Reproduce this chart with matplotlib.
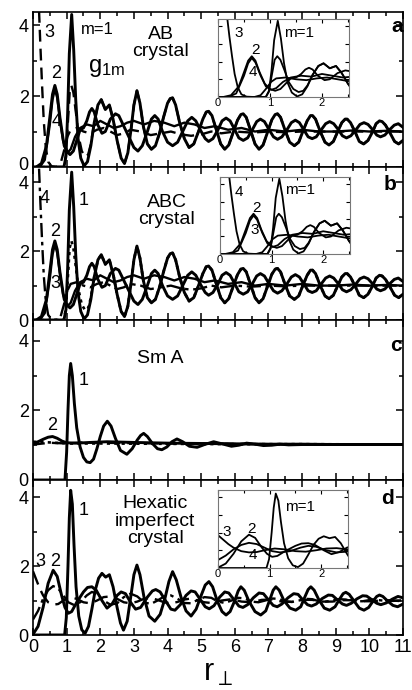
import numpy as np
import matplotlib
matplotlib.use("Agg")
import matplotlib.pyplot as plt
from matplotlib.ticker import MultipleLocator
from matplotlib.transforms import ScaledTranslation

plt.rcParams['font.family'] = ['Liberation Sans', 'DejaVu Sans']
plt.rcParams['mathtext.default'] = 'regular'

# ---------------- data ----------------
# panel a : AB crystal
a_m1 = [(0,0),(0.92,0),(0.98,0.3),(1.03,1.5),(1.08,3.2),(1.15,4.3),(1.21,3.3),(1.27,1.9),(1.34,0.8),(1.42,0.25),
        (1.52,0.03),(1.62,0.15),(1.72,0.6),(1.82,1.25),(1.93,1.75),(2.03,1.9),(2.15,1.62),(2.27,1.75),(2.38,1.35),
        (2.5,0.75),(2.62,0.25),(2.72,0.1),(2.82,0.4),(2.92,1.1),(3.0,1.75),(3.09,2.15),(3.18,1.8),(3.28,1.15),
        (3.4,0.65),(3.52,0.5),(3.64,0.6),(3.76,0.95),(3.88,1.4),(4.0,1.8),(4.08,1.93),(4.15,1.95),(4.24,1.75),
        (4.36,1.25),(4.5,0.8),(4.64,0.55),(4.78,0.65),(4.92,1.0),(5.05,1.35),(5.15,1.55),(5.22,1.57),(5.32,1.45),
        (5.45,1.05),(5.58,0.65),(5.7,0.5),(5.82,0.62),(5.96,1.0),(6.08,1.32),(6.18,1.48),(6.25,1.5),(6.34,1.4),
        (6.48,1.0),(6.6,0.65),(6.72,0.5),(6.84,0.62),(6.98,1.0),(7.1,1.33),(7.2,1.48),(7.27,1.5),(7.36,1.4),
        (7.5,1.02),(7.63,0.7),(7.77,0.6),(7.9,0.7),(8.03,1.02),(8.15,1.3),(8.25,1.45),(8.31,1.45),(8.4,1.35),
        (8.54,1.0),(8.68,0.7),(8.8,0.62),(8.93,0.72),(9.06,1.0),(9.18,1.25),(9.28,1.35),(9.34,1.35),(9.44,1.25),
        (9.58,0.98),(9.7,0.72),(9.83,0.65),(9.96,0.75),(10.1,1.0),(10.2,1.22),(10.3,1.3),(10.38,1.28),(10.48,1.18),
        (10.62,0.95),(10.75,0.72),(10.87,0.65),(11.0,0.75)]
a_m1b_head = [(0,0),(0.92,0),(0.98,0.35),(1.04,1.3),(1.09,2.1),(1.14,2.3),(1.2,2.1),(1.28,1.5),(1.36,0.85),
              (1.45,0.45),(1.55,0.28),(1.64,0.35),(1.72,0.65)]
a_m2 = [(0.1,0),(0.25,0.1),(0.4,0.6),(0.5,1.4),(0.58,2.05),(0.65,2.3),(0.72,2.05),(0.8,1.4),(0.9,0.75),(1.0,0.45),
        (1.1,0.35),(1.2,0.45),(1.3,0.75),(1.4,1.05),(1.5,1.1),(1.6,1.3),(1.68,1.55),(1.75,1.65),(1.82,1.55),
        (1.92,1.2),(2.05,0.95),(2.15,1.0),(2.3,1.35),(2.45,1.5),(2.55,1.45),(2.7,1.15),(2.85,0.85),(3.0,0.55),
        (3.12,0.45),(3.25,0.6),(3.4,1.0),(3.52,1.35),(3.62,1.45),(3.72,1.35),(3.85,1.0),(4.0,0.7),(4.15,0.6),
        (4.3,0.7),(4.45,1.0),(4.6,1.3),(4.72,1.4),(4.84,1.3),(5.0,1.0),(5.12,0.8),(5.22,0.72),(5.35,0.8),
        (5.5,1.05),(5.62,1.3),(5.74,1.38),(5.86,1.3),(6.0,1.05),(6.12,0.82),(6.25,0.75),(6.38,0.82),(6.52,1.05),
        (6.65,1.28),(6.76,1.35),(6.88,1.28),(7.02,1.05),(7.15,0.85),(7.27,0.78),(7.4,0.85),(7.55,1.05),
        (7.68,1.25),(7.8,1.32),(7.92,1.25),(8.05,1.05),(8.18,0.85),(8.3,0.8),(8.42,0.85),(8.57,1.05),(8.7,1.22),
        (8.82,1.28),(8.94,1.22),(9.08,1.05),(9.2,0.88),(9.32,0.82),(9.45,0.88),(9.6,1.05),(9.72,1.2),(9.84,1.25),
        (9.96,1.2),(10.1,1.05),(10.22,0.9),(10.33,0.85),(10.46,0.9),(10.6,1.05),(10.74,1.18),(10.86,1.22),
        (11.0,1.12)]
a_m4 = [(0.2,0),(0.35,0.2),(0.5,1.2),(0.58,1.9),(0.65,2.2),(0.72,1.95),(0.82,1.2),(0.92,0.6),(1.02,0.4),
        (1.12,0.5),(1.25,0.85),(1.4,1.1),(1.6,1.2),(1.8,1.15),(2.0,1.3),(2.2,1.2),(2.4,1.1),(2.6,1.15),(2.8,1.25),
        (3.0,1.3),(3.3,1.2),(3.6,1.3),(3.9,1.25),(4.2,1.15),(4.5,1.25),(4.8,1.2),(5.1,1.1),(5.4,1.15),(5.8,1.05),
        (6.2,1.1),(6.6,1.0),(7.0,1.05),(7.5,1.0),(8.0,1.05),(8.5,1.0),(9.0,1.0),(9.5,1.03),(10.0,1.0),(10.5,1.02),
        (11.0,1.0)]
a_m3 = [(0.18,4.4),(0.22,3.4),(0.27,2.3),(0.32,1.3),(0.38,0.55),(0.45,0.15),(0.55,0.02),(0.7,0.0),(0.82,0.1),
        (0.92,0.45),(1.02,0.85),(1.12,1.05),(1.3,1.1),(1.5,1.0),(1.7,0.95),(1.9,1.05),(2.1,1.1),(2.3,1.0),
        (2.5,0.9),(2.7,0.95),(2.9,1.05),(3.2,1.0),(3.5,0.9),(3.8,0.95),(4.1,1.0),(4.4,0.92),(4.7,0.88),(5.0,0.92),
        (5.3,1.0),(5.6,0.95),(6.0,1.0),(6.5,0.97),(7.0,1.0),(7.5,0.98),(8.0,1.0),(9.0,1.0),(10.0,1.0),(11.0,1.0)]

# panel b : ABC crystal (curves almost coincide with panel a)
b_m1 = a_m1
b_m1b_head = a_m1b_head
b_m2 = a_m2
b_m3 = a_m4
b_m4 = a_m3

# panel c : Sm A
c_m1 = [(0,0),(0.95,0),(1.0,0.8),(1.04,2.0),(1.08,3.0),(1.12,3.35),(1.17,3.0),(1.23,2.2),(1.3,1.5),(1.4,0.95),
        (1.5,0.65),(1.6,0.52),(1.7,0.5),(1.8,0.6),(1.9,0.9),(2.0,1.25),(2.1,1.55),(2.21,1.69),(2.32,1.55),
        (2.45,1.2),(2.6,0.85),(2.79,0.74),(2.95,0.9),(3.1,1.15),(3.2,1.28),(3.29,1.34),(3.4,1.25),(3.55,1.05),
        (3.7,0.9),(3.83,0.87),(3.98,0.95),(4.13,1.1),(4.28,1.18),(4.45,1.1),(4.65,0.97),(4.88,0.94),(5.1,1.02),
        (5.37,1.1),(5.62,1.04),(5.9,0.97),(6.12,1.0),(6.35,1.06),(6.6,1.03),(6.85,0.99),(7.1,1.0),(7.35,1.03),
        (7.6,1.01),(8.0,1.02),(9.0,1.02),(10.0,1.02),(11.0,1.02)]
c_m2 = [(0,1.05),(0.15,1.1),(0.3,1.17),(0.45,1.23),(0.58,1.25),(0.72,1.2),(0.86,1.12),(1.0,1.07),(1.3,1.06),
        (1.7,1.08),(2.2,1.1),(3.0,1.08),(4.0,1.06),(5.0,1.05),(6.0,1.04),(7.0,1.03),(8.0,1.03),(9.0,1.02),
        (10.0,1.02),(11.0,1.02)]
c_m3 = [(0,1.02),(0.5,1.07),(1.0,1.05),(1.5,1.08),(2.0,1.07),(3,1.06),(4,1.05),(5,1.04),(6,1.04),(7,1.03),
        (8,1.03),(9,1.02),(10,1.02),(11,1.02)]
c_m4 = [(0,1.1),(0.5,1.08),(1.0,1.05),(2.0,1.05),(4,1.04),(6,1.03),(8,1.03),(11,1.02)]

# panel d : hexatic imperfect crystal
d_m1 = [(0,0),(0.94,0),(0.99,0.5),(1.04,2.0),(1.08,3.4),(1.12,4.2),(1.17,3.8),(1.22,2.6),(1.28,1.4),(1.36,0.55),
        (1.45,0.15),(1.55,0.05),(1.65,0.25),(1.75,0.75),(1.85,1.3),(1.95,1.65),(2.05,1.79),(2.16,1.68),(2.27,1.75),
        (2.38,1.4),(2.5,0.8),(2.6,0.35),(2.69,0.14),(2.8,0.4),(2.92,1.2),(3.0,1.75),(3.09,2.03),(3.18,1.75),
        (3.3,1.1),(3.45,0.55),(3.62,0.4),(3.78,0.6),(3.92,1.05),(4.04,1.55),(4.15,1.84),(4.26,1.6),(4.4,1.1),
        (4.55,0.7),(4.7,0.55),(4.85,0.75),(5.0,1.15),(5.12,1.45),(5.23,1.55),(5.34,1.4),(5.48,0.98),(5.62,0.68),
        (5.74,0.58),(5.86,0.68),(6.0,1.0),(6.1,1.28),(6.18,1.4),(6.28,1.3),(6.42,0.98),(6.6,0.68),(6.77,0.58),
        (6.92,0.7),(7.05,1.05),(7.14,1.3),(7.22,1.4),(7.32,1.3),(7.46,1.0),(7.64,0.78),(7.81,0.72),(7.96,0.82),
        (8.08,1.1),(8.18,1.32),(8.26,1.4),(8.36,1.3),(8.5,1.02),(8.66,0.78),(8.82,0.72),(8.98,0.82),(9.12,1.05),
        (9.22,1.2),(9.3,1.24),(9.4,1.18),(9.55,0.98),(9.7,0.78),(9.84,0.72),(9.98,0.8),(10.12,1.0),(10.22,1.12),
        (10.3,1.16),(10.4,1.12),(10.55,0.98),(10.7,0.86),(10.84,0.82),(11.0,0.9)]
d_m2 = [(0,0.02),(0.15,0.25),(0.3,0.8),(0.45,1.5),(0.6,1.88),(0.72,1.7),(0.85,1.15),(0.95,0.8),(1.05,0.63),
        (1.15,0.68),(1.3,0.95),(1.5,1.25),(1.62,1.38),(1.75,1.4),(1.88,1.3),(2.05,1.0),(2.2,0.78),(2.35,0.9),
        (2.5,1.15),(2.62,1.25),(2.75,1.2),(2.9,0.95),(3.05,0.75),(3.2,0.8),(3.4,1.1),(3.55,1.28),(3.65,1.32),
        (3.78,1.25),(3.95,0.98),(4.1,0.75),(4.22,0.72),(4.38,0.88),(4.55,1.15),(4.7,1.28),(4.82,1.25),(4.98,1.02),
        (5.12,0.82),(5.24,0.76),(5.38,0.85),(5.55,1.1),(5.7,1.25),(5.82,1.22),(5.98,1.02),(6.12,0.84),(6.24,0.8),
        (6.38,0.88),(6.55,1.08),(6.72,1.22),(6.85,1.2),(7.0,1.02),(7.14,0.86),(7.26,0.82),(7.4,0.9),(7.58,1.08),
        (7.75,1.2),(7.88,1.18),(8.02,1.02),(8.16,0.88),(8.28,0.84),(8.42,0.9),(8.6,1.06),(8.78,1.16),(8.9,1.15),
        (9.05,1.02),(9.2,0.9),(9.32,0.86),(9.46,0.92),(9.63,1.05),(9.8,1.14),(9.92,1.13),(10.08,1.02),(10.22,0.92),
        (10.34,0.88),(10.5,0.93),(10.68,1.04),(10.85,1.12),(11.0,1.08)]
d_m3 = [(0,1.85),(0.1,1.6),(0.2,1.35),(0.3,1.15),(0.45,0.95),(0.6,0.88),(0.75,0.9),(0.9,1.0),(1.1,1.1),(1.3,1.05),
        (1.5,0.95),(1.7,0.92),(1.9,1.0),(2.1,1.1),(2.3,1.12),(2.5,1.05),(2.7,0.95),(2.9,0.92),(3.1,0.97),(3.3,1.05),
        (3.5,1.08),(3.7,1.02),(3.9,0.95),(4.1,0.92),(4.3,0.96),(4.5,1.03),(4.7,1.06),(4.9,1.0),(5.1,0.95),
        (5.3,0.93),(5.6,1.0),(5.9,1.04),(6.2,0.97),(6.5,0.95),(6.8,1.02),(7.1,1.03),(7.4,0.97),(7.7,0.96),(8.0,1.02),
        (8.3,1.02),(8.6,0.97),(8.9,0.97),(9.2,1.01),(9.5,1.01),(9.8,0.98),(10.1,0.98),(10.4,1.01),(10.7,1.0),
        (11.0,0.98)]
d_m4 = [(0,0.45),(0.15,0.7),(0.3,1.05),(0.45,1.3),(0.6,1.42),(0.75,1.35),(0.9,1.15),(1.05,0.95),(1.2,0.88),
        (1.4,0.95),(1.6,1.15),(1.75,1.25),(1.9,1.2),(2.1,1.0),(2.3,0.88),(2.5,0.92),(2.7,1.1),(2.9,1.2),(3.1,1.12),
        (3.3,0.95),(3.5,0.9),(3.7,1.0),(3.9,1.12),(4.1,1.15),(4.3,1.05),(4.5,0.93),(4.7,0.92),(4.9,1.02),(5.1,1.1),
        (5.3,1.08),(5.5,0.97),(5.7,0.93),(5.9,1.0),(6.1,1.08),(6.3,1.06),(6.5,0.97),(6.7,0.95),(6.9,1.0),(7.1,1.06),
        (7.3,1.05),(7.5,0.98),(7.7,0.96),(7.9,1.0),(8.1,1.05),(8.3,1.04),(8.5,0.98),(8.7,0.97),(8.9,1.0),(9.1,1.04),
        (9.3,1.03),(9.5,0.98),(9.8,0.98),(10.1,1.03),(10.4,1.0),(10.7,0.99),(11.0,1.01)]

x_ticks = list(range(0, 12))
y_ticks = [0, 2, 4]
inset_x_ticks = [0, 1, 2]


def xy(pairs):
    arr = np.array(pairs, dtype=float)
    return arr[:, 0], arr[:, 1]


def with_tail(head, full):
    last = head[-1][0]
    return head + [p for p in full if p[0] > last]


# ---------------- figure ----------------
W, H = 412, 690
fig = plt.figure(figsize=(W / 100, H / 100), dpi=100)


def axes_px(x0, y0, x1, y1, **kw):
    return fig.add_axes([x0 / W, 1 - y1 / H, (x1 - x0) / W, (y1 - y0) / H], **kw)


def style_main(ax, ytop, show_x):
    ax.set_xlim(0, 11)
    ax.set_ylim(0, ytop)
    ax.set_xticks(x_ticks)
    ax.set_yticks(y_ticks)
    ax.xaxis.set_minor_locator(MultipleLocator(0.5))
    ax.yaxis.set_minor_locator(MultipleLocator(1))
    ax.tick_params(which='both', direction='in', top=True, right=True, width=1.1, labelsize=13, pad=3)
    ax.tick_params(which='major', length=5)
    ax.tick_params(which='minor', length=3)
    if not show_x:
        ax.tick_params(axis='x', labelbottom=False)
    for s in ax.spines.values():
        s.set_linewidth(1.2)


def style_inset(ax):
    ax.set_xlim(0, 2.52)
    ax.set_ylim(0, 4.4)
    ax.set_xticks(inset_x_ticks)
    ax.set_yticks([1, 2, 3, 4])
    ax.xaxis.set_minor_locator(MultipleLocator(0.5))
    ax.tick_params(which='both', direction='in', top=True, right=True, width=0.8, labelsize=8, pad=1)
    ax.tick_params(which='major', length=3)
    ax.tick_params(which='minor', length=2)
    ax.tick_params(axis='y', labelleft=False)
    for s in ax.spines.values():
        s.set_linewidth(0.8)
        s.set_color('#777777')


LW = 2.1
K = 'black'
FS_NUM = 13
FS_TXT = 14
FS_INS = 11

# ---- panel a
ax_a = axes_px(33, 12, 403, 167)
style_main(ax_a, 4.37, False)
a_m1b = with_tail(a_m1b_head, a_m1)
for pairs, ls, lw in [(a_m2, '-', LW), (a_m4, '-', 1.7), (a_m3, (0, (5, 3)), 1.7),
                      (a_m1b, (0, (5, 3)), 1.7), (a_m1, '-', LW)]:
    ax_a.plot(*xy(pairs), color=K, ls=ls, lw=lw, solid_joinstyle='round')
ax_a.text(0.48, 3.8, '3', fontsize=FS_NUM, ha='center', va='center')
ax_a.text(0.69, 2.65, '2', fontsize=FS_NUM, ha='center', va='center')
ax_a.text(0.69, 1.27, '4', fontsize=FS_NUM, ha='center', va='center')
ax_a.text(1.92, 3.89, 'm=1', fontsize=12, ha='center', va='center')
ax_a.text(2.2, 2.8, 'g$_{1m}$', fontsize=17, ha='center', va='center')
ax_a.text(3.8, 3.5, 'AB\ncrystal', fontsize=FS_TXT, ha='center', va='center', linespacing=1.05)
ax_a.text(10.83, 3.97, 'a', fontsize=15, fontweight='bold', ha='center', va='center')

ins_a = axes_px(218, 19, 349, 97, facecolor='white')
style_inset(ins_a)
for pairs in [a_m2, a_m4, a_m3, a_m1b, a_m1]:
    ins_a.plot(*xy(pairs), color=K, lw=1.3)
ins_a.text(0.39, 3.59, '3', fontsize=FS_INS, ha='center', va='center')
ins_a.text(0.72, 2.65, '2', fontsize=FS_INS, ha='center', va='center')
ins_a.text(0.68, 1.43, '4', fontsize=FS_INS, ha='center', va='center')
ins_a.text(1.27, 3.59, 'm=1', fontsize=FS_INS, ha='left', va='center')

# ---- panel b
ax_b = axes_px(33, 167, 403, 320)
style_main(ax_b, 4.45, False)
b_m1b = with_tail(b_m1b_head, b_m1)
for pairs, ls, lw in [(b_m2, '-', LW), (b_m3, '-', 1.7), (b_m4, (0, (6, 2, 1.5, 2)), 1.7),
                      (b_m1b, (0, (1.2, 1.6)), 1.9), (b_m1, '-', LW)]:
    ax_b.plot(*xy(pairs), color=K, ls=ls, lw=lw, solid_joinstyle='round')
ax_b.text(0.36, 3.52, '4', fontsize=FS_NUM, ha='center', va='center')
ax_b.text(1.5, 3.48, '1', fontsize=FS_NUM, ha='center', va='center')
ax_b.text(0.66, 2.56, '2', fontsize=FS_NUM, ha='center', va='center')
ax_b.text(0.66, 1.07, '3', fontsize=FS_NUM, ha='center', va='center')
ax_b.text(3.98, 3.17, 'ABC\ncrystal', fontsize=FS_TXT, ha='center', va='center', linespacing=1.05)
ax_b.text(10.6, 3.95, 'b', fontsize=15, fontweight='bold', ha='center', va='center')

ins_b = axes_px(220, 177, 350, 254, facecolor='white')
style_inset(ins_b)
for pairs in [b_m2, b_m3, b_m4, b_m1b, b_m1]:
    ins_b.plot(*xy(pairs), color=K, lw=1.3)
ins_b.text(0.36, 3.56, '4', fontsize=FS_INS, ha='center', va='center')
ins_b.text(0.70, 2.61, '2', fontsize=FS_INS, ha='center', va='center')
ins_b.text(0.68, 1.37, '3', fontsize=FS_INS, ha='center', va='center')
ins_b.text(1.27, 3.66, 'm=1', fontsize=FS_INS, ha='left', va='center')

# ---- panel c
ax_c = axes_px(33, 320, 403, 480)
style_main(ax_c, 4.6, False)
for pairs, ls, lw in [(c_m2, '-', LW), (c_m3, (0, (5, 3)), 1.7), (c_m4, (0, (1.2, 1.6)), 1.9),
                      (c_m1, '-', LW)]:
    ax_c.plot(*xy(pairs), color=K, ls=ls, lw=lw, solid_joinstyle='round')
ax_c.text(1.5, 2.87, '1', fontsize=FS_NUM, ha='center', va='center')
ax_c.text(0.56, 1.57, '2', fontsize=FS_NUM, ha='center', va='center')
ax_c.text(3.79, 3.5, 'Sm A', fontsize=FS_TXT, ha='center', va='center')
ax_c.text(10.8, 3.88, 'c', fontsize=15, fontweight='bold', ha='center', va='center')

# ---- panel d
ax_d = axes_px(33, 480, 403, 635)
style_main(ax_d, 4.5, True)
for pairs, ls, lw in [(d_m2, '-', LW), (d_m3, (0, (6, 3)), 1.7), (d_m4, (0, (6, 2, 1.5, 2)), 1.7),
                      (d_m1, '-', LW)]:
    ax_d.plot(*xy(pairs), color=K, ls=ls, lw=lw, solid_joinstyle='round')
ax_d.text(0.21, 2.12, '3', fontsize=FS_NUM, ha='center', va='center')
ax_d.text(0.66, 2.12, '2', fontsize=FS_NUM, ha='center', va='center')
ax_d.text(1.5, 3.62, '1', fontsize=FS_NUM, ha='center', va='center')
ax_d.text(3.64, 3.3, 'Hexatic\nimperfect\ncrystal', fontsize=FS_TXT, ha='center', va='center', linespacing=1.05)
ax_d.text(10.55, 3.95, 'd', fontsize=15, fontweight='bold', ha='center', va='center')
ax_d.set_xlabel('r$_{\\perp}$', fontsize=22, labelpad=1)

ins_d = axes_px(218, 490, 348, 568, facecolor='white')
style_inset(ins_d)
for pairs in [d_m2, d_m3, d_m4, d_m1]:
    ins_d.plot(*xy(pairs), color=K, lw=1.3)
ins_d.text(0.16, 2.03, '3', fontsize=FS_INS, ha='center', va='center')
ins_d.text(0.65, 2.2, '2', fontsize=FS_INS, ha='center', va='center')
ins_d.text(0.68, 0.72, '4', fontsize=FS_INS, ha='center', va='center')
ins_d.text(1.3, 3.44, 'm=1', fontsize=FS_INS, ha='left', va='center')

# nudge the "0" label of panel a upward so it does not collide with panel b's "4"
lab0 = ax_a.yaxis.get_major_ticks()[0].label1
lab0.set_transform(lab0.get_transform() + ScaledTranslation(0, 4 / 100, fig.dpi_scale_trans))

fig.savefig('out.png', dpi=100)
